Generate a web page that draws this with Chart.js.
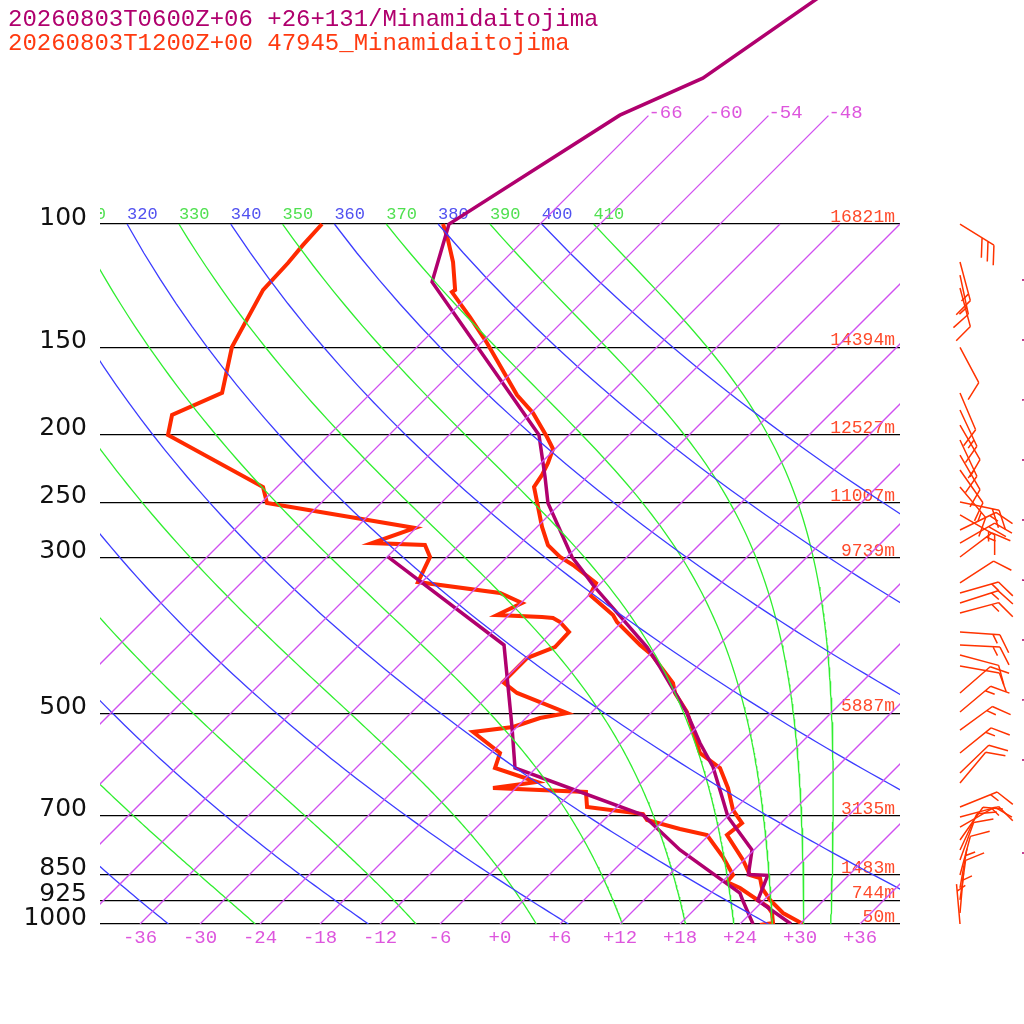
<!DOCTYPE html>
<html>
<head>
<meta charset="utf-8">
<script src="https://cdn.jsdelivr.net/npm/chart.js@4.4.1/dist/chart.umd.min.js"></script>
<style>
  html, body { margin: 0; padding: 0; background: #fff; }
</style>
</head>
<body>
<canvas id="chart" width="1024" height="1024"></canvas>
<script>
// titles
const titleModel = "20260803T0600Z+06 +26+131/Minamidaitojima";
const titleObs = "20260803T1200Z+00 47945_Minamidaitojima";

// axis ticks
const pressureTicks = [1000, 925, 850, 700, 500, 300, 250, 200, 150, 100];
const heightLabels = [50, 744, 1483, 3135, 5887, 9739, 11007, 12527, 14394, 16821];
const tempTicks = [-36, -30, -24, -18, -12, -6, 0, 6, 12, 18, 24, 30, 36];

// background lines of the diagram
const isotherms = [-66, -60, -54, -48, -42, -36, -30, -24, -18, -12, -6, 0, 6, 12, 18, 24, 30, 36];
const upperIsotherms = [-66, -60, -54, -48];
const dryThetas = [240, 260, 280, 300, 320, 340, 360, 380, 400];
const moistThetas = [250, 270, 290, 310, 330, 350, 370, 390, 410];

// 47945 observation (red)
const obsTempP = [1000, 964.5, 924, 888.3, 859.5, 851.1, 810.2, 746.2, 717.3, 687.3, 639.3, 598.6, 569.8, 497.9, 467.7, 452.6, 412.8, 399.4, 370.3, 361.9, 338.8, 325.7, 307, 299, 287.5, 270.9, 237.5, 228.3, 219.5, 209.6, 201.5, 186.2, 175.5, 147.9, 135.8, 125.1, 124.2, 113.3, 105.4, 100];
const obsTempT = [30.3, 27.2, 24.6, 22.6, 21.4, 20.1, 17.9, 13.8, 14.1, 11.9, 9.2, 6.4, 2.9, -2.5, -5.6, -6.8, -11.7, -13.9, -18.5, -19.6, -23.9, -24.5, -28.6, -30.7, -33.1, -35.5, -40.3, -40.7, -41.3, -42.2, -44.0, -47.8, -51.2, -59.4, -63.7, -68.0, -67.9, -70.9, -73.6, -75.7];
const obsDewP = [1003.3, 996.7, 964.5, 945.6, 888.3, 871.0, 851.1, 802.2, 746.2, 731.6, 710.3, 696.4, 680.5, 647.8, 639.3, 626.8, 598.6, 569.8, 531.7, 523.1, 507.8, 499.5, 467.7, 451.1, 416.9, 402.1, 382.7, 370.3, 365.5, 364.3, 361.9, 347.9, 336.6, 324.7, 299.0, 287.5, 285.6, 271.8, 250.4, 237.5, 200.2, 187.4, 174.3, 149.9, 124.2, 113.7, 107.2, 100];
const obsDewT = [26.1, 27.2, 26.1, 25.1, 20.4, 18.5, 18.4, 15.6, 11.8, 8.5, 4.3, 3.3, -3.0, -4.6, -14.3, -10.5, -16.1, -17.1, -21.9, -18.4, -16.6, -14.4, -21.4, -23.9, -23.9, -22.2, -22.3, -24.2, -25.3, -26.5, -31.2, -29.9, -33.1, -42.4, -43.7, -45.4, -50.9, -48.1, -65.4, -67.4, -82.1, -83.7, -80.9, -84.5, -87.1, -87.3, -87.6, -87.8];
const obsWindP = [1000, 964.5, 924, 888.3, 851.1, 810.2, 783.9, 758.6, 726.9, 703.3, 680.5, 628.8, 608.6, 569.8, 528.3, 497.9, 467.7, 428.0, 412.8, 399.4, 382.7, 359.5, 347.9, 336.6, 325.7, 299.0, 285.6, 273.6, 260.4, 249.5, 237.5, 224.6, 213.8, 203.5, 193.7, 184.4, 174.3, 150, 123.4, 118.3, 113.3, 100];
const obsWindDir = [355, 5, 8, 10, 15, 20, 25, 35, 60, 75, 68, 40, 46, 51, 54, 50, 49, 100, 105, 93, 94, 75, 72, 74, 57, 53, 60, 64, 120, 102, 140, 145, 150, 155, 150, 155, 157, 152, 165, 168, 165, 122];
const obsWindKt = [5, 5, 10, 5, 10, 10, 10, 10, 10, 15, 15, 10, 10, 15, 15, 15, 10, 10, 10, 15, 15, 15, 15, 15, 10, 15, 20, 15, 15, 20, 15, 10, 10, 15, 10, 15, 10, 10, 10, 15, 15, 30];

// +26+131 model profile (purple)
const modelTempP = [1000, 925, 852, 850, 783.9, 703.3, 665.1, 596.6, 551.4, 499.5, 429.4, 402.1, 327.9, 312.1, 299.0, 250.4, 229.8, 200.2, 121.0, 100, 69.9, 61.9, 40];
const modelTempT = [29.1, 23.4, 21.9, 19.9, 17.8, 12.1, 9.9, 5.6, 1.9, -2.4, -9.7, -13.0, -24.6, -27.2, -29.5, -37.3, -40.2, -45.0, -71.0, -75.1, -68.9, -64.3, -58.5];
const modelDewP = [1000, 925, 903.1, 783.9, 698.7, 598.6, 523.1, 399.4, 299.0];
const modelDewT = [25.3, 21.9, 20.9, 10.6, 3.4, -14.1, -18.5, -27.5, -47.9];
const modelWindP = [791.6, 583.1, 478.6, 392.9, 322.5, 264.7, 217.3, 178.4, 146.5, 120.2];
const modelWindDir = [90, 90, 85, 90, 95, 90, 90, 85, 90, 90];
const modelWindKt = [10, 10, 10, 10, 10, 10, 10, 10, 10, 10];

const RED = '#ff2a00';
const PURPLE = '#b0006e';
const ISO = '#d050f0';
const BLUE = '#3c3cff';
const GREEN = '#30ee30';

const SKEW = 70;          // degrees per decade of pressure
const P_TOP = 47.86;
const KAPPA = 287.04 / 1005.7;

function skewX(t, p) { return t + SKEW * Math.log10(1000 / p); }
function pts(ps, ts) { return ps.map((p, i) => ({ x: skewX(ts[i], p), y: p })); }

function rsat(p, tk) {
  const tc = tk - 273.15;
  const es = 6.112 * Math.exp(17.67 * tc / (tc + 243.5));
  return 0.622 * es / (p - es);
}
function moistRate(p, tk) {
  const rs = rsat(p, tk);
  return (287.04 * tk + 2.501e6 * rs) /
    (p * (1005.7 + 2.501e6 * 2.501e6 * rs * 0.622 / (287.04 * tk * tk)));
}
function moistAdiabat(theta) {
  let p = 100, tk = theta * Math.pow(0.1, KAPPA);
  const out = [{ x: skewX(tk - 273.15, p), y: p }];
  const h = 5;
  while (p < 1000) {
    const k1 = moistRate(p, tk);
    const k2 = moistRate(p + h / 2, tk + h / 2 * k1);
    const k3 = moistRate(p + h / 2, tk + h / 2 * k2);
    const k4 = moistRate(p + h, tk + h * k3);
    tk += h / 6 * (k1 + 2 * k2 + 2 * k3 + k4);
    p += h;
    out.push({ x: skewX(tk - 273.15, p), y: p });
  }
  return out;
}
function dryAdiabat(theta) {
  const out = [];
  for (let p = 1000; p >= 100; p -= 10) {
    out.push({ x: skewX(theta * Math.pow(p / 1000, KAPPA) - 273.15, p), y: p });
  }
  return out;
}
function isothermLine(t, top) {
  return [{ x: skewX(t, 1000), y: 1000 }, { x: skewX(t, top), y: top }];
}

const datasets = [];
function addLine(data, color, width) {
  datasets.push({ data: data, borderColor: color, backgroundColor: color, borderWidth: width,
    showLine: true, pointRadius: 0, pointHoverRadius: 0, fill: false, tension: 0 });
}

isotherms.forEach(t => addLine(isothermLine(t, upperIsotherms.includes(t) ? 70 : 100), ISO, 1.3));
dryThetas.forEach(th => addLine(dryAdiabat(th), BLUE, 1.3));
const moistLines = moistThetas.map(th => moistAdiabat(th));
moistLines.forEach(l => addLine(l, GREEN, 1.3));

addLine(pts(modelDewP, modelDewT), PURPLE, 3.5);
addLine(pts(modelTempP, modelTempT), PURPLE, 3.5);
addLine(pts(obsTempP, obsTempT), RED, 4);
addLine(pts(obsDewP, obsDewT), RED, 4);

function drawBarb(ctx, x0, y0, dir, kt) {
  const L = 40, F = 20, GAP = 7;
  const a = dir * Math.PI / 180;
  const ux = Math.sin(a), uy = -Math.cos(a);
  const fa = Math.atan2(uy, ux) + 60 * Math.PI / 180;
  const fx = Math.cos(fa) * F, fy = Math.sin(fa) * F;
  ctx.beginPath();
  ctx.moveTo(x0, y0);
  ctx.lineTo(x0 + ux * L, y0 + uy * L);
  let s = Math.round(kt / 5) * 5, d = L;
  while (s >= 10) {
    const bx = x0 + ux * d, by = y0 + uy * d;
    ctx.moveTo(bx, by); ctx.lineTo(bx + fx, by + fy);
    d -= GAP; s -= 10;
  }
  if (s >= 5) {
    if (d === L) d -= GAP;
    const bx = x0 + ux * d, by = y0 + uy * d;
    ctx.moveTo(bx, by); ctx.lineTo(bx + fx / 2, by + fy / 2);
  }
  ctx.stroke();
}

const skewtDecor = {
  id: 'skewtDecor',
  beforeDatasetsDraw(chart) {
    const { ctx, chartArea: a, scales: { x, y } } = chart;
    ctx.save();
    ctx.beginPath();
    ctx.rect(a.left, a.top, a.right - a.left, a.bottom - a.top);
    ctx.clip();
    const y100 = y.getPixelForValue(100);
    ctx.font = '17px "Liberation Mono"';
    ctx.textAlign = 'left';
    ctx.textBaseline = 'alphabetic';
    ctx.fillStyle = '#5050f0';
    dryThetas.forEach(th => {
      const t = th * Math.pow(0.1, KAPPA) - 273.15;
      ctx.fillText(String(th), x.getPixelForValue(skewX(t, 100)), y100 - 5);
    });
    ctx.fillStyle = '#50e050';
    moistLines.forEach((l, i) => {
      ctx.fillText(String(moistThetas[i]), x.getPixelForValue(l[0].x), y100 - 5);
    });
    ctx.font = '19px "Liberation Mono"';
    ctx.fillStyle = '#dd55dd';
    upperIsotherms.forEach(t => {
      ctx.fillText(String(t), x.getPixelForValue(skewX(t, 70)), y.getPixelForValue(70) + 2);
    });
    ctx.font = '18px "Liberation Mono"';
    ctx.textAlign = 'right';
    ctx.fillStyle = '#ff4a2a';
    pressureTicks.forEach((p, i) => {
      ctx.fillText(heightLabels[i] + 'm', a.right - 5, y.getPixelForValue(p) - 2);
    });
    ctx.restore();
  },
  afterDraw(chart) {
    const { ctx, chartArea: a, scales: { y } } = chart;
    ctx.save();
    ctx.font = '24px "Liberation Mono"';
    ctx.textAlign = 'left';
    ctx.textBaseline = 'alphabetic';
    ctx.fillStyle = PURPLE;
    ctx.fillText(titleModel, 8, 26);
    ctx.fillStyle = '#ff3a10';
    ctx.fillText(titleObs, 8, 50);

    ctx.lineWidth = 1.5;
    ctx.strokeStyle = '#ff3300';
    obsWindP.forEach((p, i) => drawBarb(ctx, a.right + 60, y.getPixelForValue(p), obsWindDir[i], obsWindKt[i]));
    ctx.strokeStyle = PURPLE;
    modelWindP.forEach((p, i) => drawBarb(ctx, a.right + 122, y.getPixelForValue(p), modelWindDir[i], modelWindKt[i]));
    ctx.restore();
  }
};

new Chart(document.getElementById('chart').getContext('2d'), {
  type: 'scatter',
  data: { datasets: datasets },
  options: {
    responsive: false,
    animation: false,
    events: [],
    layout: { padding: { left: 0, right: 124, top: 0, bottom: 0 } },
    plugins: { legend: { display: false }, tooltip: { enabled: false } },
    scales: {
      x: {
        type: 'linear',
        min: -40,
        max: 40,
        bounds: 'data',
        grid: { display: false },
        border: { display: false },
        afterBuildTicks: s => { s.ticks = tempTicks.map(v => ({ value: v })); },
        afterFit: s => { s.height = 100; s.paddingLeft = 0; s.paddingRight = 0; },
        ticks: {
          autoSkip: false,
          maxRotation: 0,
          padding: -5,
          color: '#dd55dd',
          font: { family: 'Liberation Mono', size: 19 },
          callback: v => (v >= 0 ? '+' + v : String(v))
        }
      },
      y: {
        type: 'logarithmic',
        reverse: true,
        min: P_TOP,
        max: 1000,
        bounds: 'data',
        grid: { color: '#000', lineWidth: 1.2, drawTicks: false },
        border: { display: false },
        afterBuildTicks: s => { s.ticks = pressureTicks.map(v => ({ value: v })); },
        afterFit: s => { s.width = 100; s.paddingTop = 0; s.paddingBottom = 0; },
        ticks: {
          autoSkip: false,
          padding: 13,
          labelOffset: -6,
          color: '#111',
          font: { family: 'DejaVu Sans', size: 25 },
          callback: v => String(v)
        }
      }
    }
  },
  plugins: [skewtDecor]
});
</script>
</body>
</html>
